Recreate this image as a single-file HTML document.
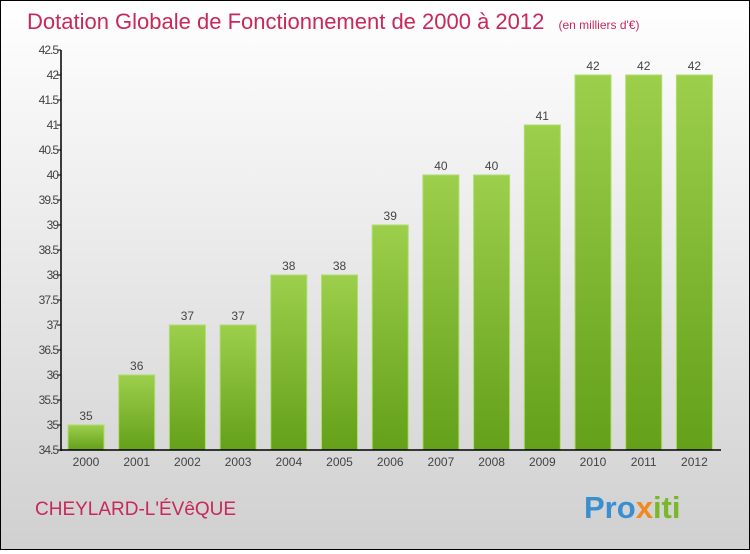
<!DOCTYPE html>
<html><head><meta charset="utf-8"><style>
body{margin:0;width:750px;height:550px;overflow:hidden;font-family:"Liberation Sans",sans-serif}
#wrap{position:absolute;left:0;top:0;width:748px;height:548px;border:1px solid #000;background:linear-gradient(#ffffff,#d0d0d0)}
</style></head><body>
<div id="wrap">
<svg width="748" height="548" xmlns="http://www.w3.org/2000/svg" id="svg">
<defs><linearGradient id="g" x1="0" y1="0" x2="0" y2="1"><stop offset="0" stop-color="#9ccf4c"/><stop offset="1" stop-color="#64a01a"/></linearGradient></defs>
<text x="26" y="28" font-size="22" fill="#c8285a">Dotation Globale de Fonctionnement de 2000 à 2012 <tspan font-size="12" dx="8">(en milliers d'€)</tspan></text>
<text x="34" y="514" font-size="19" fill="#c8285a">CHEYLARD-L'ÉVêQUE</text>
<text x="583" y="517" font-size="31" font-weight="bold" fill="#3a8fd0">Pro<tspan fill="#f08a20">x</tspan><tspan fill="#7ab82a">iti</tspan></text>
<g id="plot"></g>
</svg></div>
<script>
const years=["2000","2001","2002","2003","2004","2005","2006","2007","2008","2009","2010","2011","2012"];
const values=[35,36,37,37,38,38,39,40,40,41,42,42,42];
const ticks=[34.5,35,35.5,36,36.5,37,37.5,38,38.5,39,39.5,40,40.5,41,41.5,42,42.5];
(function(){
const yMin=34.5,yMax=42.5,plotTop=49,plotBot=449,axisX=60;
const y=v=>plotBot-(v-yMin)/(yMax-yMin)*(plotBot-plotTop);
const x=i=>85+i*50.7;
const NS="http://www.w3.org/2000/svg",g=document.getElementById('plot');
function mk(t,a){const e=document.createElementNS(NS,t);for(const k in a)e.setAttribute(k,a[k]);g.appendChild(e);return e;}
values.forEach((v,i)=>{
 const r=mk('rect',{x:x(i)-18,y:y(v),width:36,height:plotBot-y(v),fill:'url(#g)',stroke:'#b0dc70','stroke-width':1});
 
 
 const t=mk('text',{x:x(i),y:y(v)-5,'font-size':12,fill:'#444','text-anchor':'middle'});t.textContent=v;
 
 
 const l=mk('text',{x:x(i),y:plotBot+16,'font-size':12,fill:'#444','text-anchor':'middle'});l.textContent=years[i];
 
 
});
ticks.forEach(v=>{
 mk('line',{x1:axisX-4,x2:axisX,y1:y(v),y2:y(v),stroke:'#000'});
 const t=mk('text',{x:axisX-3,y:y(v)+4,'font-size':12,fill:'#444','text-anchor':'end','letter-spacing':'-1'});t.textContent=v;
 
 
});
const ya=mk('line',{x1:axisX,x2:axisX,y1:plotTop,y2:plotBot+1,stroke:'#000','stroke-width':1.5});


const xa=mk('line',{x1:axisX,x2:720,y1:plotBot,y2:plotBot,stroke:'#000','stroke-width':1.5});


})();
</script>
</body></html>
